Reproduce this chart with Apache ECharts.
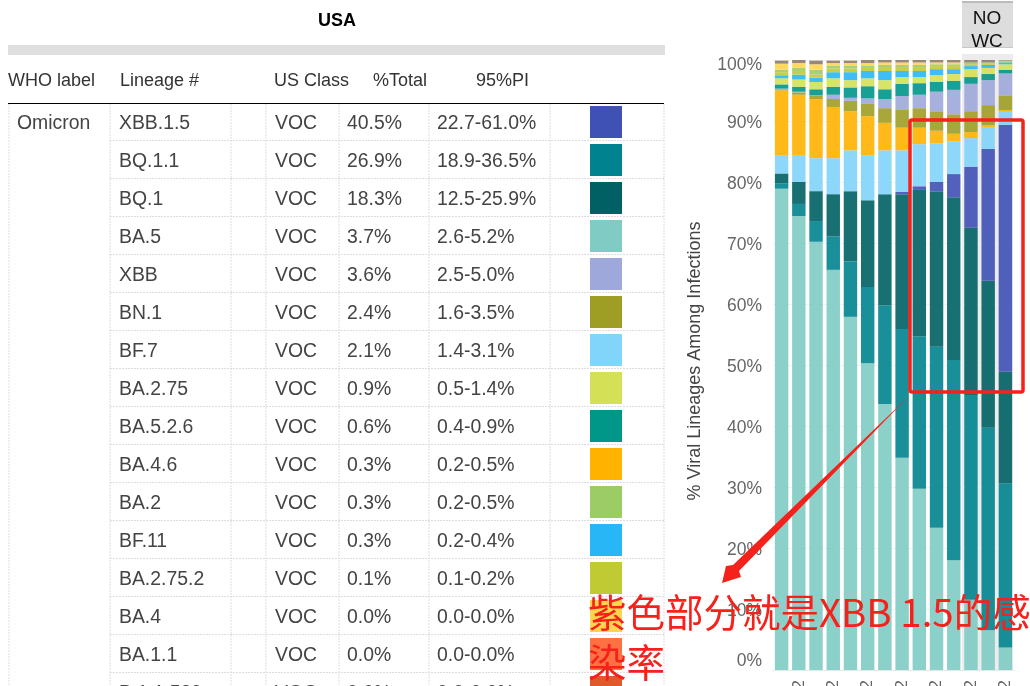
<!DOCTYPE html>
<html>
<head>
<meta charset="utf-8">
<title>USA</title>
<style>
html,body{margin:0;padding:0;background:#fff;overflow:hidden;}
#main{width:1030px;height:686px;}
</style>
<script src="https://cdn.jsdelivr.net/npm/echarts@6/dist/echarts.min.js"></script>
</head>
<body>
<div id="main"></div>
<script>
var weeks = ['10/1/22','10/8/22','10/15/22','10/22/22','10/29/22','11/5/22','11/12/22','11/19/22','11/26/22','12/3/22','12/10/22','12/17/22','12/24/22','12/31/22'];

// stacked from the bottom up, in the order seen in the bars
var BA5     = [78.9,74.4,70.2,65.6,57.9,50.3,43.6,34.8,29.7,23.3,18.0,11.5,6.5,3.7];
var BQ11    = [0.9,2.0,3.4,5.5,9.1,12.5,16.2,21.1,25.0,29.7,32.8,33.6,33.2,26.9];
var BQ1     = [1.6,3.6,4.9,6.9,11.5,14.2,18.2,22.1,24.0,25.5,26.7,27.4,24.1,18.3];
var XBB15   = [0,0,0,0,0,0,0,0.4,0.6,1.5,3.8,10.0,21.6,40.5];
var BF7     = [3.0,4.3,5.4,5.9,6.7,7.4,7.2,6.8,6.9,6.3,5.4,4.7,3.5,2.1];
var BA46    = [10.6,10.0,9.7,8.4,6.4,6.4,4.5,3.7,2.7,2.1,1.2,1.0,0.4,0.3];
var BN1     = [0.2,0.4,0.5,1.3,1.7,2.0,2.4,2.9,3.2,3.2,3.2,3.4,3.3,2.4];
var XBB     = [0.1,0.1,0.1,0.7,0.5,0.9,1.5,2.3,2.2,3.2,4.0,4.5,4.1,3.6];
var BA526   = [0.7,0.8,1.0,1.3,1.7,2.0,1.6,2.0,1.9,1.6,1.5,1.1,1.0,0.6];
var BA275   = [1.0,1.2,1.2,1.4,1.2,1.3,1.5,1.1,1.0,1.1,1.1,1.3,1.0,0.9];
var BF11    = [0.5,0.8,0.7,1.0,1.3,1.2,1.5,1.0,1.0,1.0,0.8,0.5,0.5,0.3];
var BA2752  = [0.5,0.6,0.5,0.6,0.6,0.5,0.5,0.5,0.5,0.5,0.5,0.3,0.2,0.1];
var BA2     = [0.4,0.5,0.8,0.5,0.5,0.4,0.5,0.5,0.5,0.3,0.3,0.3,0.2,0.2];
var BA4     = [1.0,0.8,0.9,0.4,0.4,0.4,0.4,0.4,0.4,0.3,0.3,0,0,0];
var other   = [0.5,0.5,0.6,0.4,0.4,0.5,0.4,0.4,0.4,0.4,0.4,0.4,0.4,0.1];

var yTicks = [0,10,20,30,40,50,60,70,80,90,100];

// table rows
var lineages = ['XBB.1.5','BQ.1.1','BQ.1','BA.5','XBB','BN.1','BF.7','BA.2.75','BA.5.2.6','BA.4.6','BA.2','BF.11','BA.2.75.2','BA.4','BA.1.1','B.1.1.529'];
var usClass  = ['VOC','VOC','VOC','VOC','VOC','VOC','VOC','VOC','VOC','VOC','VOC','VOC','VOC','VOC','VOC','VOC'];
var totals   = ['40.5%','26.9%','18.3%','3.7%','3.6%','2.4%','2.1%','0.9%','0.6%','0.3%','0.3%','0.3%','0.1%','0.0%','0.0%','0.0%'];
var ranges   = ['22.7-61.0%','18.9-36.5%','12.5-25.9%','2.6-5.2%','2.5-5.0%','1.6-3.5%','1.4-3.1%','0.5-1.4%','0.4-0.9%','0.2-0.5%','0.2-0.5%','0.2-0.4%','0.1-0.2%','0.0-0.0%','0.0-0.0%','0.0-0.0%'];
var swatches = ['#3F51B5','#00838F','#006064','#80CBC4','#9FA8DA','#9E9D24','#81D4FA','#D4E157','#009688','#FFB300','#9CCC65','#29B6F6','#C0CA33','#FFD54F','#FF7043','#E0592A'];

var FONT = '"Liberation Sans", Arial, sans-serif';
var RED = '#F5221B';

function stackSeries(name, values, color) {
	return {
		name: name,
		type: 'bar',
		stack: 'share',
		barWidth: '78%',
		data: values,
		itemStyle: {color: color, opacity: 0.9}
	};
}

function label(x, y, str, size, color, weight, align) {
	return {
		type: 'text',
		x: x,
		y: y,
		z: 5,
		style: {
			text: str,
			font: (weight || 'normal') + ' ' + size + 'px ' + FONT,
			fill: color,
			textAlign: align || 'left',
			textVerticalAlign: 'middle'
		}
	};
}

function dotted(x1, y1, x2, y2) {
	return {
		type: 'line',
		z: 1,
		shape: {x1: x1, y1: y1, x2: x2, y2: y2},
		style: {stroke: '#DDDDDD', lineWidth: 1, lineDash: [2, 1]}
	};
}

function buildTable() {
	var els = [];
	var columns = [9, 110, 231, 266, 339, 429, 550, 664];
	var i;
	els.push(label(337, 21, 'USA', 18, '#000', 'bold', 'center'));
	els.push({type: 'rect', z: 1, shape: {x: 8, y: 45, width: 657, height: 10}, style: {fill: '#DFDFDF'}});
	els.push(label(8, 81, 'WHO label', 18, '#333'));
	els.push(label(120, 81, 'Lineage #', 18, '#333'));
	els.push(label(274, 81, 'US Class', 18, '#333'));
	els.push(label(373, 81, '%Total', 18, '#333'));
	els.push(label(476, 81, '95%PI', 18, '#333'));
	for (i = 0; i < columns.length; i++) {
		els.push(dotted(columns[i], 104, columns[i], 686));
	}
	for (i = 0; i < lineages.length; i++) {
		var y = 122 + 38 * i;
		els.push(dotted(110, y + 18.5, 664, y + 18.5));
		els.push(label(119, y + 2, lineages[i], 19.4, '#444'));
		els.push(label(275, y + 2, usClass[i], 19.4, '#444'));
		els.push(label(347, y + 2, totals[i], 19.4, '#444'));
		els.push(label(437, y + 2, ranges[i], 19.4, '#444'));
		els.push({type: 'rect', z: 2, shape: {x: 590, y: y - 16, width: 32, height: 32}, style: {fill: swatches[i]}});
	}
	els.push({type: 'line', z: 3, shape: {x1: 8, y1: 103.5, x2: 664, y2: 103.5}, style: {stroke: '#000', lineWidth: 1}});
	els.push(label(17, 124, 'Omicron', 19.4, '#444'));
	return els;
}

function buildNowcast() {
	return [
		{type: 'rect', z: 0, shape: {x: 962, y: 54, width: 51, height: 616}, style: {fill: '#ECECEC'}},
		{type: 'rect', z: 0, shape: {x: 962, y: 1, width: 51, height: 46}, style: {fill: '#DDDDDD'}},
		{type: 'rect', z: 0, shape: {x: 962, y: 1, width: 51, height: 2}, style: {fill: '#BBBBBB'}},
		label(987, 19, 'NO', 19, '#111', 'normal', 'center'),
		label(987, 42, 'WC', 19, '#111', 'normal', 'center'),
		{type: 'rect', z: 6, shape: {x: 962, y: 47, width: 51, height: 7}, style: {fill: '#fff'}},
		{type: 'rect', z: 6, shape: {x: 962, y: 47, width: 51, height: 1}, style: {fill: '#C8C8C8'}}
	];
}

function buildNotes() {
	return [
		{
			type: 'rect',
			z: 50,
			shape: {x: 910, y: 120, width: 113, height: 272, r: 2},
			style: {fill: 'none', stroke: RED, lineWidth: 3.5}
		},
		{
			type: 'polygon',
			z: 50,
			shape: {points: [[909,396],[739,571],[741,577],[722,583],[726,566],[733,565]]},
			style: {fill: RED}
		},
		{
			type: 'text',
			x: 588,
			y: 612,
			z: 51,
			style: {text: '紫色部分就是XBB 1.5的感', font: '38.5px "Noto Sans CJK SC"', fill: RED, textVerticalAlign: 'middle'}
		},
		{
			type: 'text',
			x: 588,
			y: 662,
			z: 51,
			style: {text: '染率', font: '38.5px "Noto Sans CJK SC"', fill: RED, textVerticalAlign: 'middle'}
		}
	];
}

var tickStyle = {fontSize: 17.5, color: '#666'};

var myChart = echarts.init(document.getElementById('main'));
myChart.setOption({
	animation: false,
	textStyle: {fontFamily: FONT},
	grid: {left: 773, top: 60, width: 241, height: 610, outerBoundsMode: 'none'},
	xAxis: {
		type: 'category',
		data: weeks,
		axisTick: {show: false},
		axisLine: {lineStyle: {color: '#E8E8E8'}},
		axisLabel: {
			rotate: 90,
			margin: 10,
			fontSize: 17,
			color: '#666',
			interval: function(index) {
				return index % 2 == 1;
			}
		}
	},
	yAxis: {
		type: 'value',
		min: yTicks[0],
		max: yTicks[yTicks.length - 1],
		interval: yTicks[1] - yTicks[0],
		name: '% Viral Lineages Among Infections',
		nameLocation: 'middle',
		nameGap: 69,
		nameTextStyle: {fontSize: 18, color: '#444', padding: [0, 0, 0, 8]},
		axisLine: {show: false},
		axisTick: {show: false},
		splitLine: {lineStyle: {color: '#F1F1F1'}},
		axisLabel: {
			margin: 11,
			fontSize: 17.5,
			color: '#666',
			// the end labels sit inside the plot in the reference
			formatter: function(value) {
				if (value == 0) return '{low|' + value + '%}';
				if (value == 100) return '{high|' + value + '%}';
				return '{mid|' + value + '%}';
			},
			rich: {
				low: Object.assign({padding: [0, 0, 18, 0]}, tickStyle),
				mid: Object.assign({padding: [5, 0, 0, 0]}, tickStyle),
				high: Object.assign({padding: [11, 0, 0, 0]}, tickStyle)
			}
		}
	},
	series: [
		stackSeries('BA.5', BA5, swatches[3]),
		stackSeries('BQ.1.1', BQ11, swatches[1]),
		stackSeries('BQ.1', BQ1, swatches[2]),
		stackSeries('XBB.1.5', XBB15, swatches[0]),
		stackSeries('BF.7', BF7, swatches[6]),
		stackSeries('BA.4.6', BA46, swatches[9]),
		stackSeries('BN.1', BN1, swatches[5]),
		stackSeries('XBB', XBB, swatches[4]),
		stackSeries('BA.5.2.6', BA526, swatches[8]),
		stackSeries('BA.2.75', BA275, swatches[7]),
		stackSeries('BF.11', BF11, swatches[11]),
		stackSeries('BA.2.75.2', BA2752, swatches[12]),
		stackSeries('BA.2', BA2, swatches[10]),
		stackSeries('BA.4', BA4, swatches[13]),
		stackSeries('Other', other, '#8D7B6A')
	],
	graphic: {elements: buildTable().concat(buildNowcast(), buildNotes())}
});
</script>
</body>
</html>
